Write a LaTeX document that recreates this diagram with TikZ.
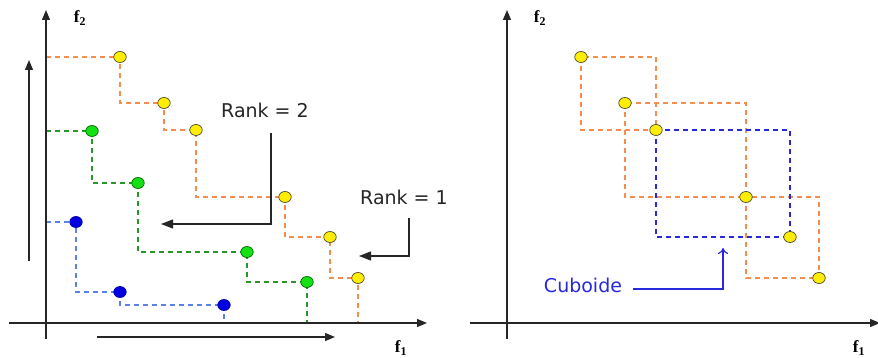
\documentclass[tikz,border=0pt]{standalone}
\usepackage{fontspec}
\setmainfont{Liberation Serif}
\newfontfamily\lblfont{DejaVu Sans}
\usetikzlibrary{arrows.meta,shapes.geometric}
\definecolor{dorange}{RGB}{245,140,80}
\definecolor{dgreen}{RGB}{40,150,40}
\definecolor{dblueL}{RGB}{90,130,230}
\definecolor{dblue}{RGB}{40,40,220}
\definecolor{ptyellow}{RGB}{255,238,0}
\definecolor{ptgreen}{RGB}{20,225,20}
\definecolor{ptblue}{RGB}{0,0,225}
\tikzset{
  axis/.style={line width=1.3pt,black!85,-{Triangle[length=10pt,width=8pt]}},
  plain/.style={line width=1.3pt,black!85},
  dsh/.style={line width=1.3pt,dash pattern=on 5pt off 4pt},
  pt/.style={ellipse,draw=black!60!olive,line width=0.7pt,minimum width=12.5pt,minimum height=11pt,inner sep=0pt},
  ypt/.style={pt,fill=ptyellow},
  gpt/.style={pt,fill=ptgreen,draw=green!40!black},
  bpt/.style={pt,fill=ptblue,draw=ptblue!70!black},
  lbl/.style={font=\lblfont\fontsize{19}{19}\selectfont,text=black!85,inner sep=0pt},
  axlbl/.style={font=\fontsize{17}{17}\selectfont\bfseries,inner sep=0pt},
  callout/.style={line width=1.3pt,black!85,-{Triangle[length=12pt,width=9pt]}}
}
\begin{document}
\begin{tikzpicture}[x=1pt,y=-1pt]
\useasboundingbox (0,0) rectangle (878,358);
% ---------- left plot ----------
\coordinate (LO) at (46,323);
\coordinate (o1) at (120,57);  \coordinate (o2) at (164,103); \coordinate (o3) at (196,130);
\coordinate (o4) at (285,197); \coordinate (o5) at (330,237); \coordinate (o6) at (358,278);
\coordinate (g1) at (92,131);  \coordinate (g2) at (138,183); \coordinate (g3) at (247,252);
\coordinate (g4) at (307,282);
\coordinate (b1) at (76,222);  \coordinate (b2) at (120,292); \coordinate (b3) at (224,305);
% staircases
\draw[dsh,dorange] (LO |- o1) -- (o1) |- (o2) |- (o3) |- (o4) |- (o5) |- (o6) -- (o6 |- LO);
\draw[dsh,dgreen] (LO |- g1) -- (g1) |- (g2) |- (g3) |- (g4) -- (g4 |- LO);
\draw[dsh,dblueL] (LO |- b1) -- (b1) |- (b2) |- (b3) -- (b3 |- LO);
% axes
\coordinate (lyb) at (46,339); \coordinate (lyt) at (46,10);
\coordinate (lxl) at (9,323);  \coordinate (lxr) at (427,323);
\draw[axis] (lyb) -- (lyt);
\draw[axis] (lxl) -- (lxr);
\node[axlbl] (lf2) at (80,18) {f$_{\mathbf{2}}$};
\node[axlbl] (lf1) at (401,348) {f$_{\mathbf{1}}$};
% direction arrows
\coordinate (va0) at (29,261); \coordinate (va1) at (29,60);
\coordinate (ha0) at (97,337); \coordinate (ha1) at (335,337);
\draw[axis] (va0) -- (va1);
\draw[axis] (ha0) -- (ha1);
% points
\node[ypt] (O1) at (o1) {}; \node[ypt] (O2) at (o2) {}; \node[ypt] (O3) at (o3) {};
\node[ypt] (O4) at (o4) {}; \node[ypt] (O5) at (o5) {}; \node[ypt] (O6) at (o6) {};
\node[gpt] (G1) at (g1) {}; \node[gpt] (G2) at (g2) {}; \node[gpt] (G3) at (g3) {};
\node[gpt] (G4) at (g4) {};
\node[bpt] (B1) at (b1) {}; \node[bpt] (B2) at (b2) {}; \node[bpt] (B3) at (b3) {};
% rank labels
\node[lbl] (r2) at (265,110) {Rank = 2};
\coordinate (r2a) at (271,133); \coordinate (r2b) at (271,224); \coordinate (r2c) at (161,224);
\draw[callout] (r2a) -- (r2b) -- (r2c);
\node[lbl] (r1) at (404,197) {Rank = 1};
\coordinate (r1a) at (409,218); \coordinate (r1b) at (409,256); \coordinate (r1c) at (359,256);
\draw[callout] (r1a) -- (r1b) -- (r1c);
% ---------- right plot ----------
\coordinate (RO) at (507,323);
\coordinate (p1) at (581,57);  \coordinate (p2) at (625,103); \coordinate (p3) at (656,130);
\coordinate (p4) at (746,197); \coordinate (p5) at (790,237); \coordinate (p6) at (819,278);
\draw[dsh,dorange] (p1) rectangle (p3);
\draw[dsh,dorange] (p2) rectangle (p4);
\draw[dsh,dorange] (p4) rectangle (p6);
\draw[dsh,dblue] (p3) rectangle (p5);
\coordinate (ryb) at (507,339); \coordinate (ryt) at (507,10);
\coordinate (rxl) at (470,323); \coordinate (rxr) at (880,323);
\draw[axis] (ryb) -- (ryt);
\draw[axis] (rxl) -- (rxr);
\node[axlbl] (rf2) at (540,18) {f$_{\mathbf{2}}$};
\node[axlbl] (rf1) at (859,348) {f$_{\mathbf{1}}$};
\node[ypt] (P1) at (p1) {}; \node[ypt] (P2) at (p2) {}; \node[ypt] (P3) at (p3) {};
\node[ypt] (P4) at (p4) {}; \node[ypt] (P5) at (p5) {}; \node[ypt] (P6) at (p6) {};
\node[lbl,text=dblue] (cub) at (583,285) {Cuboide};
\coordinate (ca) at (633,289); \coordinate (cb) at (723,289); \coordinate (cc) at (723,248);
\draw[line width=1.2pt,dblue,-{To[length=6pt,width=10pt]}] (ca) -- (cb) -- (cc);
\end{tikzpicture}
\end{document}
